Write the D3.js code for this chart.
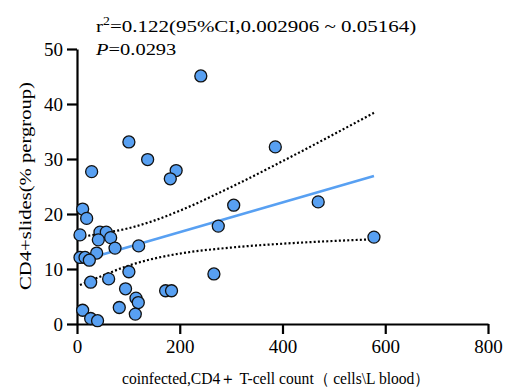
<!DOCTYPE html>
<html>
<head>
<meta charset="utf-8">
<script src="https://cdn.jsdelivr.net/npm/d3@7"></script>
<style>
  body { margin: 0; background: #fff; }
  text { font-family: "Liberation Serif", "Times New Roman", serif; fill: #000; }
</style>
</head>
<body>
<svg id="chart" width="505" height="387"></svg>
<script>
// CD4 count (x) vs CD4+ slides % (y)
var cd4Count = [241, 101, 137.5, 28.5, 193, 181.6, 386, 305, 469.5, 275, 578, 266.5,
	11, 18.8, 5.8, 44.7, 57, 41.5, 65.5, 74, 120, 38.3, 5.8, 15.6, 24,
	26.6, 61.6, 101, 94.5, 114.8, 119.3, 82.3, 113.5, 11, 26.6, 40, 172.5, 184];
var slidesPct = [45.1, 33.1, 29.9, 27.7, 27.9, 26.4, 32.2, 21.6, 22.2, 17.8, 15.8, 9.1,
	20.9, 19.2, 16.2, 16.7, 16.7, 15.3, 15.7, 13.8, 14.2, 12.9, 12.1, 12.1, 11.6,
	7.6, 8.2, 9.5, 6.4, 4.7, 3.9, 3.0, 1.8, 2.5, 1.0, 0.6, 6.05, 6.05];

// fitted line and 95% band
var fitX = [5.8, 578];
var fitY = [11.45, 26.9];
var bandX = [5.8, 50, 100, 150, 200, 300, 400, 500, 578];
var bandUpper = [15.8, 16.5, 17.4, 18.8, 20.6, 24.9, 29.6, 34.5, 38.4];
var bandLower = [7.1, 8.8, 10.6, 11.9, 12.8, 13.9, 14.6, 15.1, 15.4];

var xTicks = [0, 200, 400, 600, 800];
var yTicks = [0, 10, 20, 30, 40, 50];

var svg = d3.select('#chart');
var blue = "#58a0f2";

var x = d3.scaleLinear().domain([0, 800]).range([77, 488]);
var y = d3.scaleLinear().domain([0, 50]).range([324, 49]);

// axes
var xAxis = svg.append("g")
	.attr("transform", "translate(0,324)")
	.call(d3.axisBottom(x).tickValues(xTicks).tickSize(10).tickPadding(6).tickSizeOuter(0));
var yAxis = svg.append("g")
	.attr("transform", "translate(77,0)")
	.call(d3.axisLeft(y).tickValues(yTicks).tickSize(10).tickPadding(4).tickSizeOuter(0));

[xAxis, yAxis].forEach(function(ax) {
	ax.select(".domain").attr("stroke", "#000").attr("stroke-width", 2.2);
	ax.selectAll(".tick line").attr("stroke", "#000").attr("stroke-width", 2.2);
	ax.selectAll(".tick text")
		.style("font-family", '"Liberation Serif", serif')
		.style("font-size", "19px")
		.attr("fill", "#000");
});

// confidence band
var bandLine = d3.line()
	.x(function(d) { return x(d[0]); })
	.y(function(d) { return y(d[1]); })
	.curve(d3.curveMonotoneX);

[bandUpper, bandLower].forEach(function(vals) {
	svg.append("path")
		.datum(bandX.map(function(v, i) { return [v, vals[i]]; }))
		.attr("d", bandLine)
		.attr("fill", "none")
		.attr("stroke", "#000")
		.attr("stroke-width", 2.2)
		.attr("stroke-dasharray", "2,2.2");
});

// regression line
svg.append("path")
	.datum(fitX.map(function(v, i) { return [v, fitY[i]]; }))
	.attr("d", d3.line().x(function(d) { return x(d[0]); }).y(function(d) { return y(d[1]); }))
	.attr("fill", "none")
	.attr("stroke", blue)
	.attr("stroke-width", 2.6);

// points
svg.append("g").selectAll("circle")
	.data(cd4Count.map(function(v, i) { return [v, slidesPct[i]]; }))
	.enter().append("circle")
	.attr("cx", function(d) { return x(d[0]); })
	.attr("cy", function(d) { return y(d[1]); })
	.attr("r", 6)
	.attr("fill", blue)
	.attr("stroke", "#111")
	.attr("stroke-width", 1.3);

// stats text (the original type is a bit wide)
var stat = svg.append("text")
	.attr("transform", "translate(96,32) scale(1.2,1)")
	.style("font-size", "17.5px");
stat.append("tspan").text("r");
stat.append("tspan").attr("dy", -7).style("font-size", "11.5px").text("2");
stat.append("tspan").attr("dy", 7).text("=0.122(95%CI,0.002906 ~ 0.05164)");

var pText = svg.append("text")
	.attr("transform", "translate(96,55) scale(1.17,1)")
	.style("font-size", "17.5px");
pText.append("tspan").style("font-style", "italic").text("P");
pText.append("tspan").text("=0.0293");

// axis titles
svg.append("text")
	.attr("x", 122).attr("y", 384)
	.attr("textLength", 308)
	.attr("lengthAdjust", "spacingAndGlyphs")
	.style("font-size", "16px")
	.text("coinfected,CD4\uFF0B T-cell count\uFF08 cells\\L blood\uFF09");

svg.append("text")
	.attr("transform", "translate(31,290) rotate(-90)")
	.attr("textLength", 208)
	.attr("lengthAdjust", "spacingAndGlyphs")
	.style("font-size", "17px")
	.text("CD4+slides(% pergroup)");
</script>
</body>
</html>
